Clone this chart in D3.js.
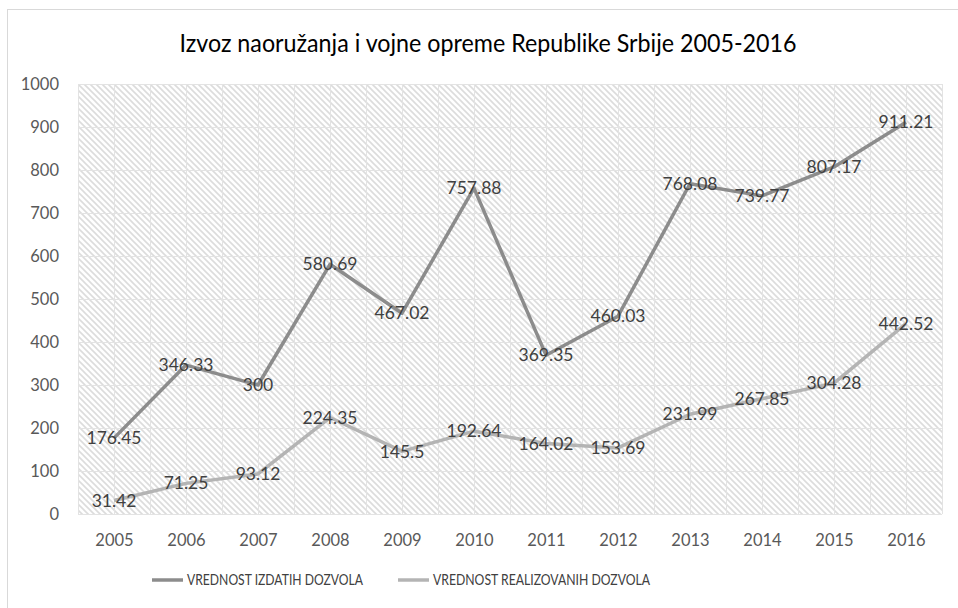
<!DOCTYPE html>
<html>
<head>
<meta charset="utf-8">
<script src="https://cdn.jsdelivr.net/npm/d3@7"></script>
<style>
  body { margin: 0; background: #fff; }
  text { font-family: Lato, "Open Sans", sans-serif; }
</style>
</head>
<body>
<svg id="chart" width="958" height="608"></svg>
<script>
// data
let years = ['2005','2006','2007','2008','2009','2010','2011','2012','2013','2014','2015','2016'];
let izdatih = [176.45, 346.33, 300, 580.69, 467.02, 757.88, 369.35, 460.03, 768.08, 739.77, 807.17, 911.21];
let realizovanih = [31.42, 71.25, 93.12, 224.35, 145.5, 192.64, 164.02, 153.69, 231.99, 267.85, 304.28, 442.52];
let yTicks = [0, 100, 200, 300, 400, 500, 600, 700, 800, 900, 1000];
let seriesNames = ['VREDNOST IZDATIH DOZVOLA', 'VREDNOST REALIZOVANIH DOZVOLA'];
let seriesColors = ['#8c8c8c', '#b4b4b4'];

let svg = d3.select('#chart');

// outer chart border
svg.append('rect')
	.attr('x', 7.5).attr('y', 9.5)
	.attr('width', 980).attr('height', 640)
	.attr('fill', '#fff')
	.attr('stroke', '#d9d9d9');

// hatch pattern for plot area
let pat = svg.append('defs').append('pattern')
	.attr('id', 'hatch')
	.attr('patternUnits', 'userSpaceOnUse')
	.attr('width', 6).attr('height', 6);
pat.append('rect').attr('width', 6).attr('height', 6).attr('fill', '#fff');
pat.append('path')
	.attr('d', 'M-1,-1 L7,7 M-1,5 L1,7 M5,-1 L7,1')
	.attr('stroke', '#dcdcdc')
	.attr('stroke-width', 1.6);

let plotL = 78, plotR = 942, plotT = 84, plotB = 514;

let x = d3.scalePoint().domain(years).range([plotL, plotR]).padding(0.5);
let xBand = d3.scaleBand().domain(years).range([plotL, plotR]);
let y = d3.scaleLinear().domain([0, 1000]).range([plotB, plotT]);

svg.append('rect')
	.attr('x', plotL).attr('y', plotT)
	.attr('width', plotR - plotL).attr('height', plotB - plotT)
	.attr('fill', 'url(#hatch)');

// gridlines
let grid = svg.append('g').attr('stroke', '#e3e3e3').attr('stroke-width', 1);
let vx = [];
years.forEach(function(yr) {
	vx.push(xBand(yr));
	vx.push(xBand(yr) + xBand.bandwidth() / 2);
});
vx.push(plotR);
grid.selectAll('line.v')
	.data(vx)
	.enter().append('line')
	.attr('x1', d => Math.round(d) + 0.5).attr('x2', d => Math.round(d) + 0.5)
	.attr('y1', plotT).attr('y2', plotB);
grid.selectAll('line.h')
	.data(yTicks)
	.enter().append('line')
	.attr('x1', plotL).attr('x2', plotR)
	.attr('y1', d => Math.round(y(d)) + 0.5).attr('y2', d => Math.round(y(d)) + 0.5);

// axes
let yAxis = svg.append('g')
	.attr('transform', 'translate(' + (plotL - 19) + ',0)')
	.call(d3.axisLeft(y).tickValues(yTicks).tickFormat(d3.format('d')).tickSize(0).tickPadding(0));
let xAxis = svg.append('g')
	.attr('transform', 'translate(0,' + plotB + ')')
	.call(d3.axisBottom(x).tickSize(0).tickPadding(20));
[yAxis, xAxis].forEach(function(a) {
	a.select('.domain').remove();
	a.selectAll('text')
		.attr('fill', '#595959')
		.style('font-size', '16.5px');
});

// title
svg.append('text')
	.attr('x', 488).attr('y', 52)
	.attr('text-anchor', 'middle')
	.attr('fill', '#000')
	.attr('textLength', 617)
	.attr('lengthAdjust', 'spacingAndGlyphs')
	.style('font-size', '25px')
	.text('Izvoz naoružanja i vojne opreme Republike Srbije 2005-2016');

// lines
let line = d3.line()
	.x((d, i) => x(years[i]))
	.y(d => y(d));

[izdatih, realizovanih].forEach(function(vals, k) {
	svg.append('path')
		.datum(vals)
		.attr('d', line)
		.attr('fill', 'none')
		.attr('stroke', seriesColors[k])
		.attr('stroke-width', 3.5)
		.attr('stroke-linejoin', 'round');
});

// data labels, centred on points
[izdatih, realizovanih].forEach(function(vals) {
	svg.append('g').selectAll('text')
		.data(vals)
		.enter().append('text')
		.attr('x', (d, i) => x(years[i]))
		.attr('y', d => y(d))
		.attr('dy', '0.35em')
		.attr('text-anchor', 'middle')
		.attr('fill', '#404040')
		.style('font-size', '17.5px')
		.text(d => d);
});

// legend
let legX = [152, 398];
let legW = [176, 217];
seriesNames.forEach(function(name, k) {
	let g = svg.append('g').attr('transform', 'translate(' + legX[k] + ',580)');
	g.append('line')
		.attr('x1', 0).attr('x2', 31)
		.attr('stroke', seriesColors[k])
		.attr('stroke-width', 3.5);
	g.append('text')
		.attr('x', 35).attr('dy', '0.36em')
		.attr('fill', '#404040')
		.attr('textLength', legW[k])
		.attr('lengthAdjust', 'spacingAndGlyphs')
		.style('font-size', '14.5px')
		.text(name);
});
</script>
</body>
</html>
